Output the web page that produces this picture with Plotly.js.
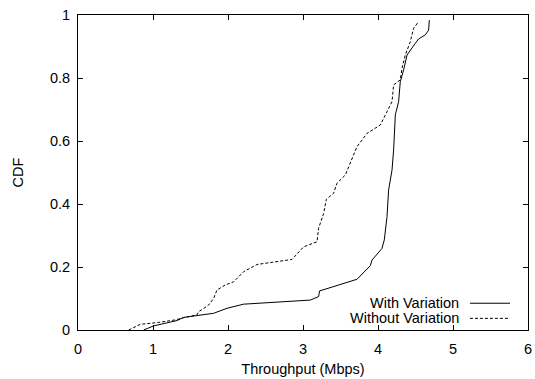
<!DOCTYPE html>
<html>
<head>
<meta charset="utf-8">
<script src="https://cdn.plot.ly/plotly-3.0.1.min.js"></script>
<style>html,body{margin:0;padding:0;background:#fff}#chart{width:535px;height:379px}</style>
</head>
<body>
<div id="chart"></div>
<script>
// With Variation
const withX = [0.875, 1.008, 1.32, 1.408, 1.808, 1.987, 2.208, 3.097, 3.208, 3.221, 3.72, 3.897, 3.92, 4.053, 4.084, 4.12, 4.141, 4.187, 4.208, 4.231, 4.275, 4.297, 4.341, 4.387, 4.497, 4.541, 4.631, 4.675, 4.684];
const withY = [0.0, 0.013, 0.030, 0.040, 0.053, 0.069, 0.082, 0.095, 0.106, 0.124, 0.161, 0.204, 0.222, 0.259, 0.286, 0.360, 0.444, 0.508, 0.571, 0.683, 0.725, 0.788, 0.825, 0.873, 0.910, 0.924, 0.937, 0.952, 0.984];
// Without Variation
const withoutX = [0.675, 0.831, 1.075, 1.297, 1.408, 1.587, 1.608, 1.741, 1.808, 1.853, 1.964, 2.075, 2.208, 2.387, 2.853, 3.008, 3.187, 3.208, 3.275, 3.311, 3.408, 3.453, 3.564, 3.72, 3.853, 4.031, 4.12, 4.187, 4.208, 4.297, 4.32, 4.364, 4.43, 4.475, 4.541];
const withoutY = [0.0, 0.018, 0.024, 0.032, 0.039, 0.048, 0.058, 0.079, 0.100, 0.127, 0.143, 0.153, 0.185, 0.208, 0.224, 0.264, 0.280, 0.323, 0.370, 0.415, 0.434, 0.466, 0.492, 0.582, 0.624, 0.651, 0.693, 0.725, 0.778, 0.794, 0.831, 0.873, 0.915, 0.958, 0.979];
const seriesNames = ["With Variation", "Without Variation"];
const xTicks = [0, 1, 2, 3, 4, 5, 6];
const yTicks = [0, 0.2, 0.4, 0.6, 0.8, 1];
const yTickText = ["0", "0.2", "0.4", "0.6", "0.8", "1"];

const font = {family: "Liberation Sans, Arial, sans-serif", size: 14.5, color: "#000"};

const traces = [
  {x: withX, y: withY, mode: "lines", name: seriesNames[0], line: {color: "#000", width: 1}, showlegend: false},
  {x: withoutX, y: withoutY, mode: "lines", name: seriesNames[1], line: {color: "#000", width: 1, dash: "3px,2px"}, showlegend: false}
];

const axisCommon = {
  showgrid: false, zeroline: false, showline: true, linecolor: "#000", linewidth: 1,
  mirror: "ticks", ticks: "inside", ticklen: 5, tickcolor: "#000", tickwidth: 1,
  tickfont: font
};

const layout = {
  width: 535, height: 379,
  margin: {l: 78, r: 7, t: 15, b: 49},
  paper_bgcolor: "#fff", plot_bgcolor: "#fff",
  font: font,
  xaxis: Object.assign({}, axisCommon, {
    range: [0, 6], tickvals: xTicks, ticktext: xTicks.map(String),
    ticklabelstandoff: 6,
    title: {text: "Throughput (Mbps)", font: font, standoff: 7}
  }),
  yaxis: Object.assign({}, axisCommon, {
    range: [0, 1], tickvals: yTicks, ticktext: yTickText,
    ticklabelstandoff: 4,
    title: {text: "CDF", font: font, standoff: 22}
  }),
  annotations: [
    {xref: "paper", yref: "paper", x: 0.85, y: 0.085, xanchor: "right", yanchor: "middle", height: 14, valign: "middle", text: seriesNames[0], showarrow: false, font: font},
    {xref: "paper", yref: "paper", x: 0.85, y: 0.037, xanchor: "right", yanchor: "middle", height: 14, valign: "middle", text: seriesNames[1], showarrow: false, font: font}
  ],
  shapes: [
    {type: "line", xref: "paper", yref: "paper", x0: 0.871, x1: 0.96, y0: 0.085, y1: 0.085, line: {color: "#000", width: 1}},
    {type: "line", xref: "paper", yref: "paper", x0: 0.871, x1: 0.96, y0: 0.037, y1: 0.037, line: {color: "#000", width: 1, dash: "3px,2px"}}
  ]
};

Plotly.newPlot("chart", traces, layout, {displayModeBar: false, staticPlot: true});
</script>
</body>
</html>
